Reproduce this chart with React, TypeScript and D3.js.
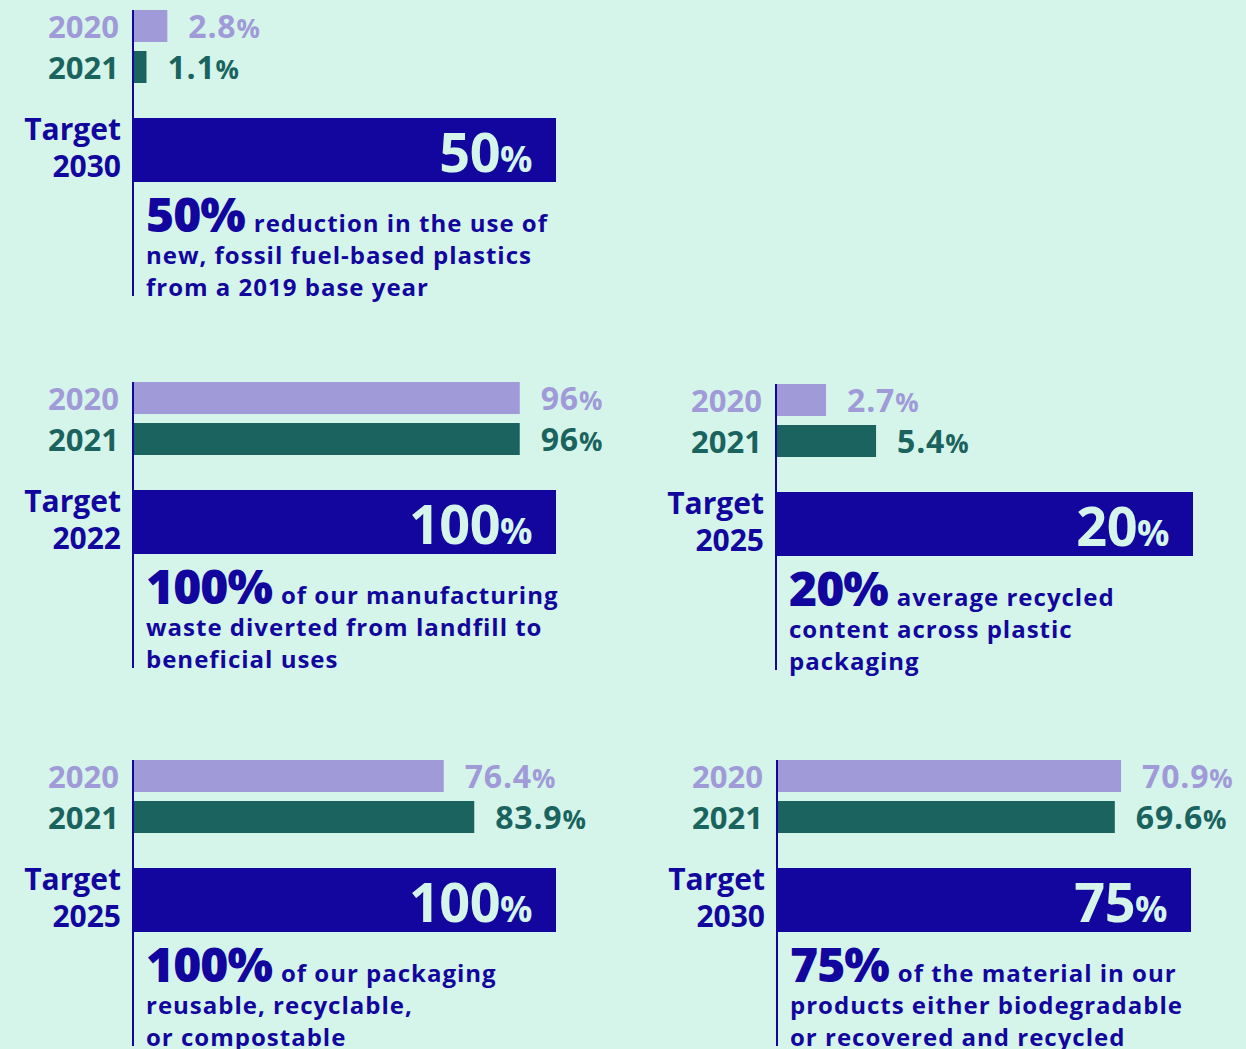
import React from "react";
import * as d3 from "d3";

// ---- Data ----
const years = ["2020", "2021"];
const panelIds = ["p1", "p2", "p3", "p4", "p5"];
const values2020 = [2.8, 96, 2.7, 76.4, 70.9];
const values2021 = [1.1, 96, 5.4, 83.9, 69.6];
const valueLabels2020 = ["2.8", "96", "2.7", "76.4", "70.9"];
const valueLabels2021 = ["1.1", "96", "5.4", "83.9", "69.6"];
const targetValues = [50, 100, 20, 100, 75];
const targetYears = ["2030", "2022", "2025", "2025", "2030"];
const scaleMax = [34.5, 105, 22.5, 104, 85.3];
const descLine1 = [
  "reduction in the use of",
  "of our manufacturing",
  "average recycled",
  "of our packaging",
  "of the material in our",
];
const descLine2 = [
  "new, fossil fuel-based plastics",
  "waste diverted from landfill to",
  "content across plastic",
  "reusable, recyclable,",
  "products either biodegradable",
];
const descLine3 = [
  "from a 2019 base year",
  "beneficial uses",
  "packaging",
  "or compostable",
  "or recovered and recycled",
];

// ---- Layout / style ----
const W = 1246;
const H = 1049;
const BG = "#d6f5ea";
const C2020 = "#a09ad8";
const C2021 = "#1a635f";
const NAVY = "#12069e";
const FONT = "'Open Sans', 'Noto Sans', sans-serif";

const panelLayout = [
  { x: 133, top: 10, width: 423 },
  { x: 133, top: 382, width: 423 },
  { x: 776, top: 384, width: 417 },
  { x: 133, top: 760, width: 423 },
  { x: 777, top: 760, width: 414 },
];

const yearColor = d3.scaleOrdinal<string, string>().domain(years).range([C2020, C2021]);

function Panel({ i }: { i: number }) {
  const L = panelLayout[i];
  const x = d3.scaleLinear().domain([0, scaleMax[i]]).range([0, L.width]).clamp(true);
  const y = d3.scaleBand<string>().domain(years).range([0, 73]).paddingInner(0.22).paddingOuter(0);
  const vals = [values2020[i], values2021[i]];
  const labs = [valueLabels2020[i], valueLabels2021[i]];
  const targetTop = 108;
  const targetH = 64;
  const fullW = x.range()[1];
  return (
    <g transform={`translate(${L.x},${L.top})`}>
      {years.map((yr, k) => {
        const by = y(yr) as number;
        const bw = y.bandwidth();
        const w = x(vals[k]);
        return (
          <g key={yr}>
            <rect x={0} y={by} width={w} height={bw} fill={yearColor(yr)} />
            <text
              x={-14}
              y={by + bw / 2 + 12}
              textAnchor="end"
              fontFamily={FONT}
              fontWeight={700}
              fontSize={31}
              fill={yearColor(yr)}
            >
              {yr}
            </text>
            <text
              x={w + 21}
              y={by + bw / 2 + 12}
              fontFamily={FONT}
              fontWeight={700}
              fontSize={32}
              letterSpacing={0.8}
              fill={yearColor(yr)}
            >
              {labs[k]}
              <tspan fontSize={26}>%</tspan>
            </text>
          </g>
        );
      })}
      <rect x={0} y={targetTop} width={fullW} height={targetH} fill={NAVY} />
      <text x={-12} y={targetTop + 22} textAnchor="end" fontFamily={FONT} fontWeight={700} fontSize={30} fill={NAVY}>
        Target
      </text>
      <text x={-12} y={targetTop + 59} textAnchor="end" fontFamily={FONT} fontWeight={700} fontSize={30} fill={NAVY}>
        {targetYears[i]}
      </text>
      <text
        x={fullW - 24}
        y={targetTop + 54}
        textAnchor="end"
        fontFamily={FONT}
        fontWeight={700}
        fontSize={54}
        letterSpacing={-0.5}
        fill={BG}
      >
        {targetValues[i]}
        <tspan fontSize={36}>%</tspan>
      </text>
      <text x={13} y={222} fontFamily={FONT} fontWeight={700} fill={NAVY}>
        <tspan fontSize={48} fontWeight={800} letterSpacing={-1}>{targetValues[i]}%</tspan>
        <tspan fontSize={24} dx={9} letterSpacing={1}>{descLine1[i]}</tspan>
      </text>
      <text x={13} y={254} fontFamily={FONT} fontWeight={700} fontSize={24} letterSpacing={1} fill={NAVY}>
        {descLine2[i]}
      </text>
      <text x={13} y={286} fontFamily={FONT} fontWeight={700} fontSize={24} letterSpacing={1} fill={NAVY}>
        {descLine3[i]}
      </text>
      <line x1={0} x2={0} y1={0} y2={286} stroke={NAVY} strokeWidth={2} />
    </g>
  );
}

export default function App() {
  return (
    <svg width={W} height={H} style={{ position: "absolute", left: 0, top: 0, display: "block" }}>
      <rect x={0} y={0} width={W} height={H} fill={BG} />
      {panelIds.map((id, i) => (
        <Panel key={id} i={i} />
      ))}
    </svg>
  );
}
